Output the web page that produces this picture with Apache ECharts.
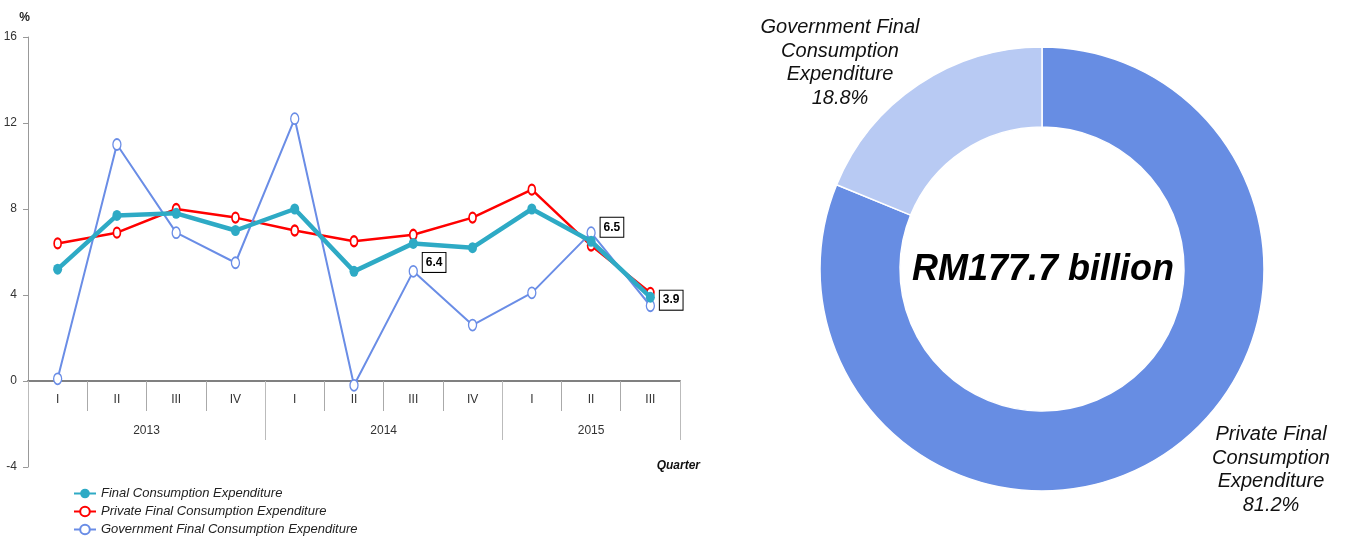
<!DOCTYPE html>
<html>
<head>
<meta charset="utf-8">
<script src="https://cdn.jsdelivr.net/npm/echarts@6/dist/echarts.min.js"></script>
<style>
  html, body { margin: 0; padding: 0; background: #fff; }
  #chart { width: 1345px; height: 536px; }
</style>
</head>
<body>
<div id="chart"></div>
<script>
// quarters and years on the x axis
const quarters = ['I', 'II', 'III', 'IV', 'I', 'II', 'III', 'IV', 'I', 'II', 'III']
const years = ['2013', '2014', '2015']
const quartersPerYear = [4, 4, 3]

// growth rates, %
const finalCE = [5.2, 7.7, 7.8, 7.0, 8.0, 5.1, 6.4, 6.2, 8.0, 6.5, 3.9]
const privateFCE = [6.4, 6.9, 8.0, 7.6, 7.0, 6.5, 6.8, 7.6, 8.9, 6.3, 4.1]
const govFCE = [0.1, 11.0, 6.9, 5.5, 12.2, -0.2, 5.1, 2.6, 4.1, 6.9, 3.5]

// points of the final consumption line that carry a boxed value
const labelledIdx = [6, 9, 10]

// y ticks
const yMin = -4
const yMax = 16
const yStep = 4

// donut
const shareNames = ['Private Final\nConsumption\nExpenditure', 'Government Final\nConsumption\nExpenditure']
const shareValues = [81.2, 18.8]
const totalText = 'RM177.7 billion'

// year boundaries and centres on the quarter scale
const yearBounds = [0]
quartersPerYear.forEach((n, i) => yearBounds.push(yearBounds[i] + n))
const yearCentres = years.map((y, i) => (yearBounds[i] + yearBounds[i + 1]) / 2)

const narrow = '"Liberation Sans Narrow", "Arial Narrow", "Liberation Sans", sans-serif'
const helv = '"Liberation Sans", Arial, sans-serif'

const labelOffsets = { 6: [0, 19], 9: [0, -14], 10: [0, 3] }
const labelPos = [[1271, 470], [840, 63]]

// plot area; the quarter/year axes sit on the zero line
const plotTop = 37
const plotBottom = 467
const zeroY = plotTop + (plotBottom - plotTop) * yMax / (yMax - yMin)

const chart = echarts.init(document.getElementById('chart'))

const finalData = finalCE.map((v, i) => {
  if (labelledIdx.indexOf(i) < 0) return v
  return {
    value: v,
    label: {
      show: true,
      position: 'right',
      offset: labelOffsets[i],
      formatter: '{c}',
      color: '#000',
      fontFamily: narrow,
      fontWeight: 'bold',
      fontSize: 12,
      backgroundColor: '#fff',
      borderColor: '#000',
      borderWidth: 1,
      padding: [4, 3, 3, 3]
    }
  }
})

const option = {
  animation: false,
  grid: [
    { left: 28, top: plotTop, right: 665, bottom: 536 - plotBottom },
    { left: 28, top: plotTop, right: 665, bottom: 536 - zeroY }
  ],
  legend: {
    data: ['Final Consumption Expenditure', 'Private Final Consumption Expenditure', 'Government Final Consumption Expenditure'],
    orient: 'vertical',
    left: 73,
    top: 487,
    itemWidth: 22,
    itemHeight: 12,
    itemGap: 5,
    padding: 0,
    textStyle: { fontFamily: helv, fontStyle: 'italic', fontSize: 13, color: '#222' }
  },
  xAxis: [
    {
      gridIndex: 0,
      type: 'category',
      data: quarters,
      boundaryGap: true,
      axisLine: { show: false },
      axisTick: { show: false },
      axisLabel: { show: false },
      splitLine: { show: false }
    },
    {
      gridIndex: 1,
      type: 'category',
      data: quarters,
      position: 'bottom',
      boundaryGap: true,
      axisLine: { onZero: false, lineStyle: { color: '#808080', width: 2 } },
      axisTick: { show: true, length: 30, lineStyle: { color: '#aaa' } },
      axisLabel: { margin: 13, fontSize: 12, color: '#333', fontFamily: narrow },
      splitLine: { show: false }
    },
    {
      gridIndex: 1,
      type: 'value',
      min: 0,
      max: quarters.length,
      position: 'bottom',
      axisLine: { show: false, onZero: false },
      axisTick: { show: true, customValues: yearBounds, length: 59, lineStyle: { color: '#bbb' } },
      axisLabel: {
        customValues: yearCentres,
        formatter: v => years[yearCentres.indexOf(v)],
        margin: 44,
        fontSize: 12,
        color: '#333',
        fontFamily: narrow
      },
      splitLine: { show: false }
    }
  ],
  yAxis: [
    {
      gridIndex: 0,
      type: 'value',
      min: yMin,
      max: yMax,
      interval: yStep,
      name: '%',
      nameLocation: 'end',
      nameGap: 13,
      nameTextStyle: { color: '#222', fontWeight: 'bold', fontSize: 12, fontFamily: narrow, align: 'right', padding: [0, -2, 0, 0] },
      axisLine: { show: true, onZero: false, lineStyle: { color: '#999', width: 1 } },
      axisTick: { show: true, length: 5, lineStyle: { color: '#999' } },
      axisLabel: { margin: 11, fontSize: 12, color: '#333', fontFamily: narrow },
      splitLine: { show: false }
    },
    {
      gridIndex: 1,
      type: 'value',
      min: 0,
      max: yMax,
      show: false
    }
  ],
  graphic: [
    {
      type: 'text',
      x: 700,
      y: 466,
      style: {
        text: 'Quarter',
        textAlign: 'right',
        textVerticalAlign: 'middle',
        font: 'italic bold 12px ' + narrow,
        fill: '#111'
      }
    },
    {
      type: 'text',
      x: 1043,
      y: 270,
      z: 10,
      style: {
        text: totalText,
        textAlign: 'center',
        textVerticalAlign: 'middle',
        font: 'italic bold 36px ' + helv,
        fill: '#000'
      }
    }
  ],
  series: [
    {
      name: 'Final Consumption Expenditure',
      type: 'line',
      data: finalData,
      z: 5,
      symbol: 'circle',
      symbolSize: [9, 11],
      itemStyle: { color: '#2eaac5' },
      lineStyle: { color: '#2eaac5', width: 4.5 }
    },
    {
      name: 'Private Final Consumption Expenditure',
      type: 'line',
      data: privateFCE,
      z: 3,
      symbol: 'circle',
      symbolSize: [7, 10],
      itemStyle: { color: '#fff', borderColor: '#ff0000', borderWidth: 2 },
      lineStyle: { color: '#ff0000', width: 2.5 }
    },
    {
      name: 'Government Final Consumption Expenditure',
      type: 'line',
      data: govFCE,
      z: 4,
      symbol: 'circle',
      symbolSize: [8, 11],
      itemStyle: { color: '#fff', borderColor: '#6a8de6', borderWidth: 1.5 },
      lineStyle: { color: '#6a8de6', width: 2 }
    },
    {
      name: 'share',
      type: 'pie',
      center: [1042, 269],
      radius: [142, 222],
      startAngle: 90,
      clockwise: true,
      silent: true,
      data: shareNames.map((n, i) => ({ name: n, value: shareValues[i] })),
      color: ['#678de3', '#b8caf3'],
      itemStyle: { borderColor: '#fff', borderWidth: 1.5 },
      label: {
        show: true,
        formatter: p => p.name + '\n' + p.value + '%',
        fontFamily: helv,
        fontStyle: 'italic',
        fontSize: 20,
        lineHeight: 23.5,
        color: '#111',
        align: 'center'
      },
      labelLine: { show: false },
      labelLayout: p => ({
        x: labelPos[p.dataIndex][0],
        y: labelPos[p.dataIndex][1],
        align: 'center',
        verticalAlign: 'middle'
      })
    }
  ]
}

chart.setOption(option)
window.addEventListener('resize', () => chart.resize())
</script>
</body>
</html>
